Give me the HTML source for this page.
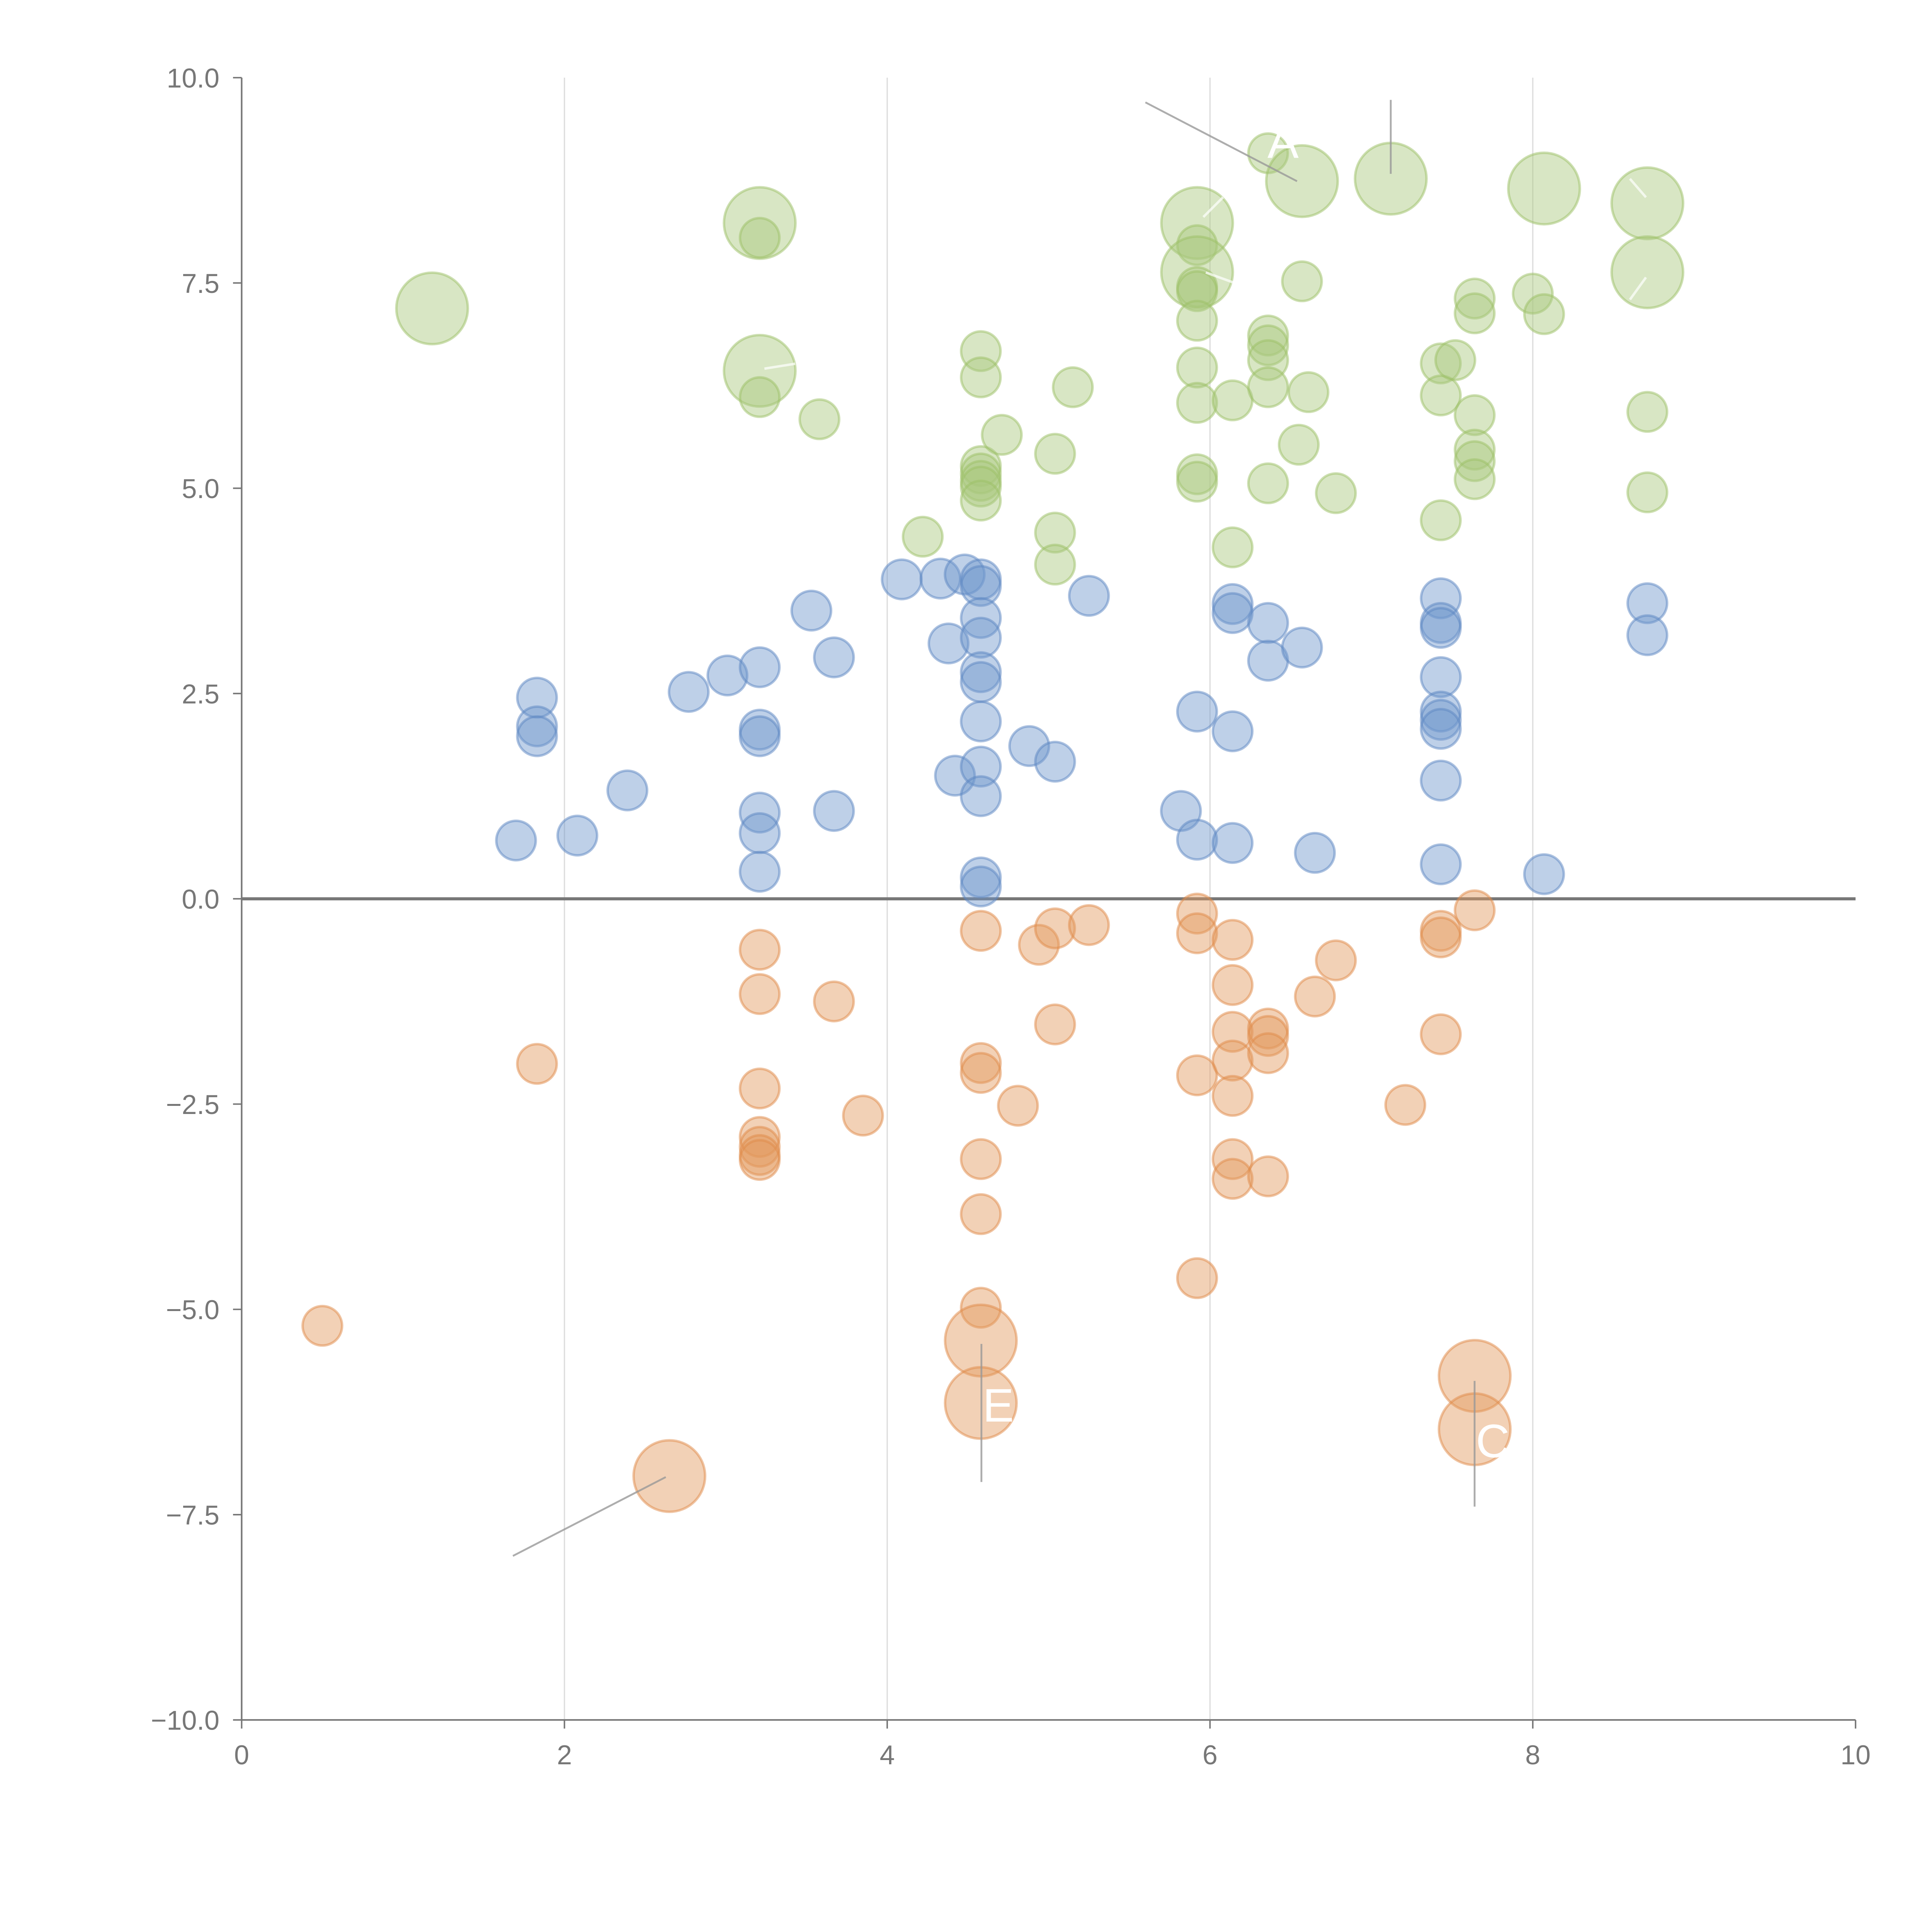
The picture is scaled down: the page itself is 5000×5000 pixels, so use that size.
<!DOCTYPE html>
<html><head><meta charset="utf-8"><style>
html,body{margin:0;padding:0;background:#fff;}
svg{display:block;}
text{font-family:"Liberation Sans",sans-serif;}
</style></head>
<body>
<svg id="chart" width="5000" height="5000" viewBox="0 0 1567 1567" xmlns="http://www.w3.org/2000/svg">
<g id="grid"></g>
<g id="axes"></g>
<g id="marks"></g>
<g id="annot"></g>
</svg>
<script>
const xTicks = [0, 2, 4, 6, 8, 10];
const yTicks = [10, 7.5, 5, 2.5, 0, -2.5, -5, -7.5, -10];
const yTickLabels = ["10.0", "7.5", "5.0", "2.5", "0.0", "\u22122.5", "\u22125.0", "\u22127.5", "\u221210.0"];

const blueX = [1.70,2.08,2.39,1.83,1.83,1.83,2.77,3.01,3.21,3.21,3.21,3.21,3.21,3.21,3.53,3.67,3.67,4.09,4.33,4.48,4.38,4.42,4.58,4.58,4.58,4.58,4.58,4.58,4.58,4.58,4.58,4.58,4.58,4.88,5.04,5.25,5.82,5.92,5.92,6.14,6.14,6.14,6.14,6.36,6.36,6.57,6.65,7.43,7.43,7.43,7.43,7.43,7.43,7.43,7.43,7.43,8.07,8.71,8.71];
const blueY = [0.71,0.77,1.32,2.45,2.10,1.98,2.52,2.72,2.82,2.06,1.98,1.05,0.80,0.33,3.51,2.94,1.07,3.89,3.90,3.95,3.11,1.50,3.89,3.81,3.42,3.18,2.76,2.64,2.16,1.61,1.25,0.26,0.15,1.86,1.67,3.69,1.07,2.28,0.72,3.59,3.48,2.04,0.68,3.36,2.90,3.06,0.56,3.66,3.36,3.30,2.70,2.28,2.18,2.07,1.44,0.42,0.30,3.60,3.21];
const blueS = blueX.map(() => 1);

const orangeX = [0.50,1.83,2.65,3.21,3.21,3.21,3.21,3.21,3.21,3.21,3.67,3.85,4.58,4.58,4.58,4.58,4.58,4.58,4.58,4.58,4.81,4.94,5.04,5.04,5.25,5.92,5.92,5.92,5.92,6.14,6.14,6.14,6.14,6.14,6.14,6.14,6.36,6.36,6.36,6.36,6.65,6.78,7.21,7.43,7.43,7.43,7.64,7.64,7.64];
const orangeY = [-5.20,-2.01,-7.03,-0.62,-1.16,-2.31,-2.90,-3.02,-3.12,-3.18,-1.25,-2.64,-0.39,-2.00,-2.12,-3.17,-3.84,-4.98,-5.38,-6.14,-2.52,-0.56,-0.36,-1.53,-0.32,-0.18,-0.42,-2.15,-4.62,-0.50,-1.05,-1.62,-1.97,-2.40,-3.17,-3.41,-1.58,-1.67,-1.88,-3.38,-1.19,-0.75,-2.51,-0.39,-0.47,-1.65,-0.14,-5.81,-6.46];
const orangeS = [1,1,2,1,1,1,1,1,1,1,1,1,1,1,1,1,1,1,2,2,1,1,1,1,1,1,1,1,1,1,1,1,1,1,1,1,1,1,1,1,1,1,1,1,1,1,1,2,2];

const greenX = [1.18,3.21,3.21,3.21,3.21,3.58,4.22,4.58,4.58,4.58,4.58,4.58,4.58,4.58,4.71,5.04,5.04,5.04,5.15,5.92,5.92,5.92,5.92,5.92,5.92,5.92,5.92,5.92,5.92,6.14,6.14,6.36,6.36,6.36,6.36,6.36,6.36,6.57,6.57,6.55,6.61,6.78,7.12,7.43,7.43,7.43,7.52,7.64,7.64,7.64,7.64,7.64,7.64,8.00,8.07,8.07,8.71,8.71,8.71,8.71];
const greenY = [7.19,8.23,8.05,6.43,6.11,5.84,4.41,6.67,6.35,5.27,5.18,5.09,5.02,4.85,5.65,5.42,4.46,4.07,6.23,8.23,7.96,7.63,7.45,7.40,7.04,6.47,6.04,5.17,5.08,6.07,4.28,9.08,6.86,6.74,6.56,6.23,5.06,8.74,7.52,5.53,6.17,4.94,8.77,6.52,6.13,4.61,6.56,7.31,7.13,5.89,5.47,5.33,5.11,7.37,7.12,8.65,8.47,7.63,5.93,4.95];
const greenS = [2,2,1,2,1,1,1,1,1,1,1,1,1,1,1,1,1,1,1,2,1,2,1,1,1,1,1,1,1,1,1,1,1,1,1,1,1,2,1,1,1,1,2,1,1,1,1,1,1,1,1,1,1,1,1,2,2,2,1,1];

const X0 = 196, X1 = 1505, YT = 63, YB = 1395;
function sx(v){ return X0 + (v - 0) / 10 * (X1 - X0); }
function sy(v){ return YB - (v + 10) / 20 * (YB - YT); }
function rad(s){ return s === 2 ? 29 : 16; }
const NS = "http://www.w3.org/2000/svg";
function mk(tag, attrs, parent){
  const e = document.createElementNS(NS, tag);
  for (const k in attrs) e.setAttribute(k, attrs[k]);
  parent.appendChild(e);
  return e;
}
const grid = document.getElementById('grid');
const axes = document.getElementById('axes');
const marks = document.getElementById('marks');
const annot = document.getElementById('annot');

xTicks.forEach(t => {
  if (t > 0 && t < 10) {
    const g = mk('line', {x1: sx(t), x2: sx(t), y1: YT, y2: YB, stroke: '#dcdcdc', 'stroke-width': 1}, grid);
    
    
  }
  const tk = mk('line', {x1: sx(t), x2: sx(t), y1: YB, y2: YB + 7, stroke: '#777', 'stroke-width': 1.2}, axes);
  
  
  const lb = mk('text', {x: sx(t), y: YB + 36, 'text-anchor': 'middle', 'font-size': 22, fill: '#777'}, axes);
  lb.textContent = String(t);
  
  
});
yTicks.forEach((t, i) => {
  const tk = mk('line', {x1: X0 - 7, x2: X0, y1: sy(t), y2: sy(t), stroke: '#777', 'stroke-width': 1.2}, axes);
  
  
  const lb = mk('text', {x: X0 - 18, y: sy(t) + 8, 'text-anchor': 'end', 'font-size': 22, fill: '#777'}, axes);
  lb.textContent = yTickLabels[i];
  
  
});
const ya = mk('line', {x1: X0, x2: X0, y1: YT, y2: YB, stroke: '#777', 'stroke-width': 1.3}, axes);


const xa = mk('line', {x1: X0, x2: X1, y1: YB, y2: YB, stroke: '#777', 'stroke-width': 1.3}, axes);



function series(xs, ys, ss, fill, stroke, name){
  xs.forEach((x, i) => {
    const c = mk('circle', {cx: sx(x), cy: sy(ys[i]), r: rad(ss[i]), fill: fill, 'fill-opacity': 0.45, stroke: stroke, 'stroke-opacity': 0.5, 'stroke-width': 2}, marks);
    
    
  });
}
series(blueX, blueY, blueS, '#6f96cc', '#5b86c2', 'bubble-blue');
series(orangeX, orangeY, orangeS, '#e39a5e', '#e08a48', 'bubble-orange');
series(greenX, greenY, greenS, '#a8c87c', '#9cc066', 'bubble-green');

const zl = mk('line', {x1: X0, x2: X1, y1: sy(0), y2: sy(0), stroke: '#777', 'stroke-width': 2.5}, axes);



const leaders = [[929,83,1052,147],[1128,81,1128,141],[416,1262,540,1198],[796,1090,796,1202],[1196,1120,1196,1222]];
leaders.forEach(l => {
  const e = mk('line', {x1: l[0], y1: l[1], x2: l[2], y2: l[3], stroke: '#999', 'stroke-width': 1.5, 'stroke-opacity': 0.8}, annot);
  
  
});
const wl = [[976,176,992,160],[620,299,645,295],[1322,145,1335,160],[1322,243,1335,225],[978,221,1000,229]];
wl.forEach(l => {
  const e = mk('line', {x1: l[0], y1: l[1], x2: l[2], y2: l[3], stroke: '#fff', 'stroke-width': 2, 'stroke-opacity': 0.7}, annot);
  
  
});
const labels = [["E",797,1153],["C",1197,1182],["A",1028,128]];
labels.forEach(l => {
  const t = mk('text', {x: l[1], y: l[2], 'font-size': 38, fill: '#fff'}, annot);
  t.textContent = l[0];
  
  
});
</script>
</body></html>
